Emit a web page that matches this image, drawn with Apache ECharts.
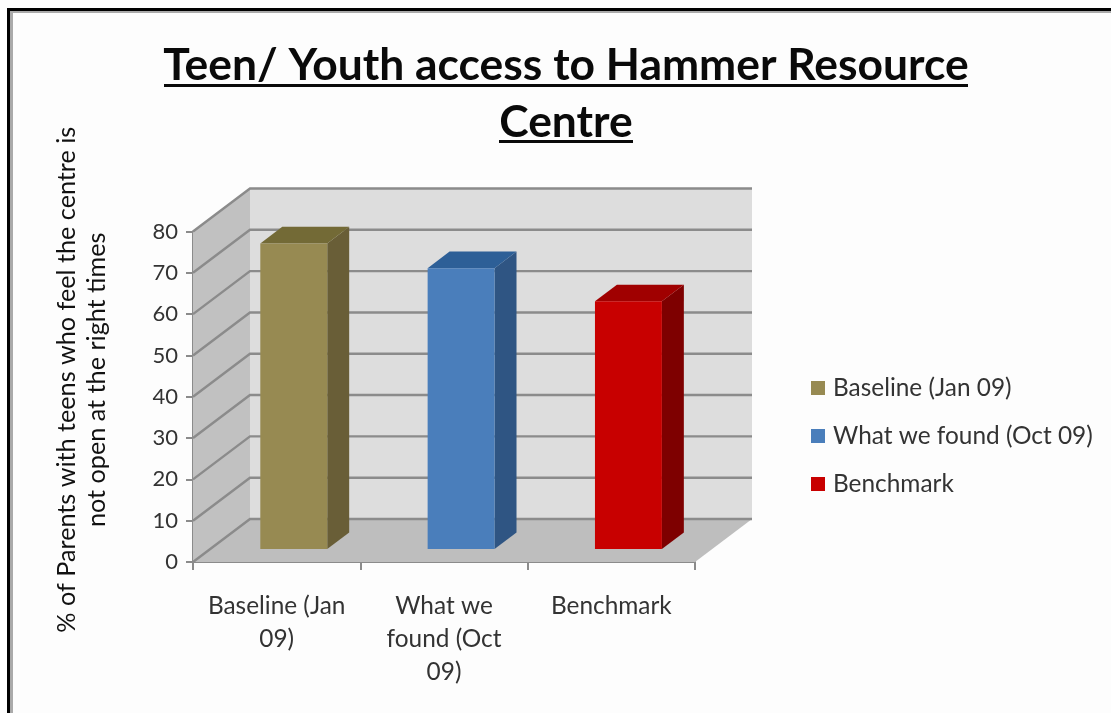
<!DOCTYPE html>
<html>
<head>
<meta charset="utf-8">
<style>html,body{margin:0;padding:0;background:#fdfdfd}#c{width:1111px;height:713px}</style>
<script src="https://cdn.jsdelivr.net/npm/echarts@6/dist/echarts.min.js"></script>
</head>
<body>
<div id="c"></div>
<script>
const seriesNames = ['Baseline (Jan 09)', 'What we found (Oct 09)', 'Benchmark'];
const tickLabels = ['Baseline (Jan\n09)', 'What we\nfound (Oct\n09)', 'Benchmark'];
const seriesValues = [74, 68, 60];
const yTicks = [0, 10, 20, 30, 40, 50, 60, 70, 80];
const frontColors = ['#978a52', '#4a7ebb', '#c80000'];
const sideColors = ['#695e37', '#2f5583', '#7e0000'];
const topColors = ['#736a36', '#2d5f97', '#a00000'];

const FONT = 'Lato, Carlito, sans-serif';
const DX = 57, DY = -43;               // wall depth in pixels
const BAR_IN = 0.3, BAR_DEPTH = 0.385; // bar placement within the depth
const BAR_WIDTH = 0.4;                 // share of a category band

const chart = echarts.init(document.getElementById('c'), null, {renderer: 'canvas'});

function poly(points, fill, z2) {
  return {type: 'polygon', z2: z2 || 0, shape: {points}, style: {fill}};
}
function renderWalls(params, api) {
  const band = api.size([1, 0])[0];
  const x0 = api.coord([0, 0])[0] - band / 2;
  const x1 = api.coord([2, 0])[0] + band / 2;
  const yB = api.coord([0, 0])[1];
  const yT = api.coord([0, 80])[1];
  return {type: 'group', children: [
    poly([[x0 + DX, yT + DY], [x1 + DX, yT + DY], [x1 + DX, yB + DY], [x0 + DX, yB + DY]], '#dddddd'),
    poly([[x0, yT], [x0 + DX, yT + DY], [x0 + DX, yB + DY], [x0, yB]], '#c1c1c1'),
    poly([[x0, yB], [x0 + DX, yB + DY], [x1 + DX, yB + DY], [x1, yB]], '#bebebe')
  ]};
}
function renderGrid(params, api) {
  const band = api.size([1, 0])[0];
  const x0 = api.coord([0, 0])[0] - band / 2;
  const x1 = api.coord([2, 0])[0] + band / 2;
  const y = api.coord([0, api.value(0)])[1];
  const st = {stroke: '#8b8b8b', lineWidth: 2.4, fill: 'none'};
  return {type: 'group', children: [
    {type: 'polyline', shape: {points: [[x0, y], [x0 + DX, y + DY], [x1 + DX, y + DY]]}, style: st}
  ]};
}
function renderBar(idx) {
  return function (params, api) {
    const band = api.size([1, 0])[0];
    const c = api.coord([api.value(0), 0]);
    const yTop = api.coord([api.value(0), api.value(1)])[1] + DY * BAR_IN;
    const yBase = c[1] + DY * BAR_IN;
    const xL = c[0] - band * BAR_WIDTH / 2 + DX * BAR_IN;
    const xR = xL + band * BAR_WIDTH;
    const dx = DX * BAR_DEPTH, dy = DY * BAR_DEPTH;
    return {type: 'group', children: [
      poly([[xR, yTop], [xR + dx, yTop + dy], [xR + dx, yBase + dy], [xR, yBase]], sideColors[idx]),
      poly([[xL, yTop], [xL + dx, yTop + dy], [xR + dx, yTop + dy], [xR, yTop]], topColors[idx]),
      poly([[xL, yTop], [xR, yTop], [xR, yBase], [xL, yBase]], frontColors[idx])
    ]};
  };
}

const barSeries = seriesNames.map((name, i) => ({
  type: 'custom',
  name,
  coordinateSystem: 'cartesian2d',
  clip: false,
  itemStyle: {color: frontColors[i]},
  encode: {x: 0, y: 1},
  data: [[i, seriesValues[i]]],
  renderItem: renderBar(i),
  z: 5,
  silent: true
}));

chart.setOption({
  animation: false,
  backgroundColor: '#fdfdfd',
  title: {
    text: 'Teen/ Youth access to Hammer Resource\nCentre',
    left: 561,
    top: 32,
    textAlign: 'center',
    textStyle: {fontFamily: FONT, fontWeight: 'bold', fontSize: 44.4, lineHeight: 57, color: '#0a0a0a'}
  },
  legend: {
    orient: 'vertical',
    left: 806,
    top: 371,
    icon: 'rect',
    itemWidth: 14,
    itemHeight: 14,
    itemGap: 24,
    selectedMode: false,
    data: seriesNames,
    textStyle: {fontFamily: FONT, fontSize: 24.4, color: '#333', padding: [0, 0, 0, 3]}
  },
  grid: {left: 193, top: 231.5, width: 502, height: 330.5},
  xAxis: {
    type: 'category',
    data: tickLabels,
    axisLine: {lineStyle: {color: '#8b8b8b', width: 2}},
    axisTick: {show: true, length: 8, lineStyle: {color: '#8b8b8b', width: 2}, alignWithLabel: false},
    axisLabel: {margin: 28, interval: 0, fontFamily: FONT, fontSize: 24.4, lineHeight: 33, color: '#333'},
    splitLine: {show: false}
  },
  yAxis: {
    type: 'value',
    min: 0,
    max: 80,
    interval: 10,
    name: '% of Parents with teens who feel the centre is\nnot open at the right times',
    nameLocation: 'middle',
    nameRotate: 90,
    nameGap: 81,
    nameTextStyle: {fontFamily: FONT, fontSize: 25.2, lineHeight: 30, color: '#111', padding: [0, 0, 0, 34]},
    axisLine: {show: true, lineStyle: {color: '#8b8b8b', width: 2}},
    axisTick: {show: true, length: 7, lineStyle: {color: '#8b8b8b', width: 2}},
    axisLabel: {margin: 15, fontFamily: FONT, fontSize: 22, color: '#333'},
    splitLine: {show: false}
  },
  graphic: [
    {type: 'rect', silent: true, shape: {x: 7, y: 8, width: 1104, height: 3}, style: {fill: '#000'}, z: 10},
    {type: 'rect', silent: true, shape: {x: 7, y: 8, width: 3, height: 705}, style: {fill: '#000'}, z: 10},
    {type: 'rect', silent: true, shape: {x: 10, y: 11, width: 1101, height: 2}, style: {fill: '#aaa'}, z: 10},
    {type: 'rect', silent: true, shape: {x: 10, y: 11, width: 3, height: 702}, style: {fill: '#aaa'}, z: 10},
    {type: 'rect', silent: true, shape: {x: 164, y: 84, width: 804, height: 3}, style: {fill: '#0a0a0a'}, z: 10},
    {type: 'rect', silent: true, shape: {x: 499, y: 140, width: 134, height: 3}, style: {fill: '#0a0a0a'}, z: 10}
  ],
  series: [
    {type: 'custom', name: 'walls', coordinateSystem: 'cartesian2d', clip: false, silent: true,
     encode: {y: 0}, data: [[0]], renderItem: renderWalls, z: 1},
    {type: 'custom', name: 'gridlines', coordinateSystem: 'cartesian2d', clip: false, silent: true,
     encode: {y: 0}, data: yTicks.map(v => [v]), renderItem: renderGrid, z: 2},
    ...barSeries
  ]
});
</script>
</body>
</html>
